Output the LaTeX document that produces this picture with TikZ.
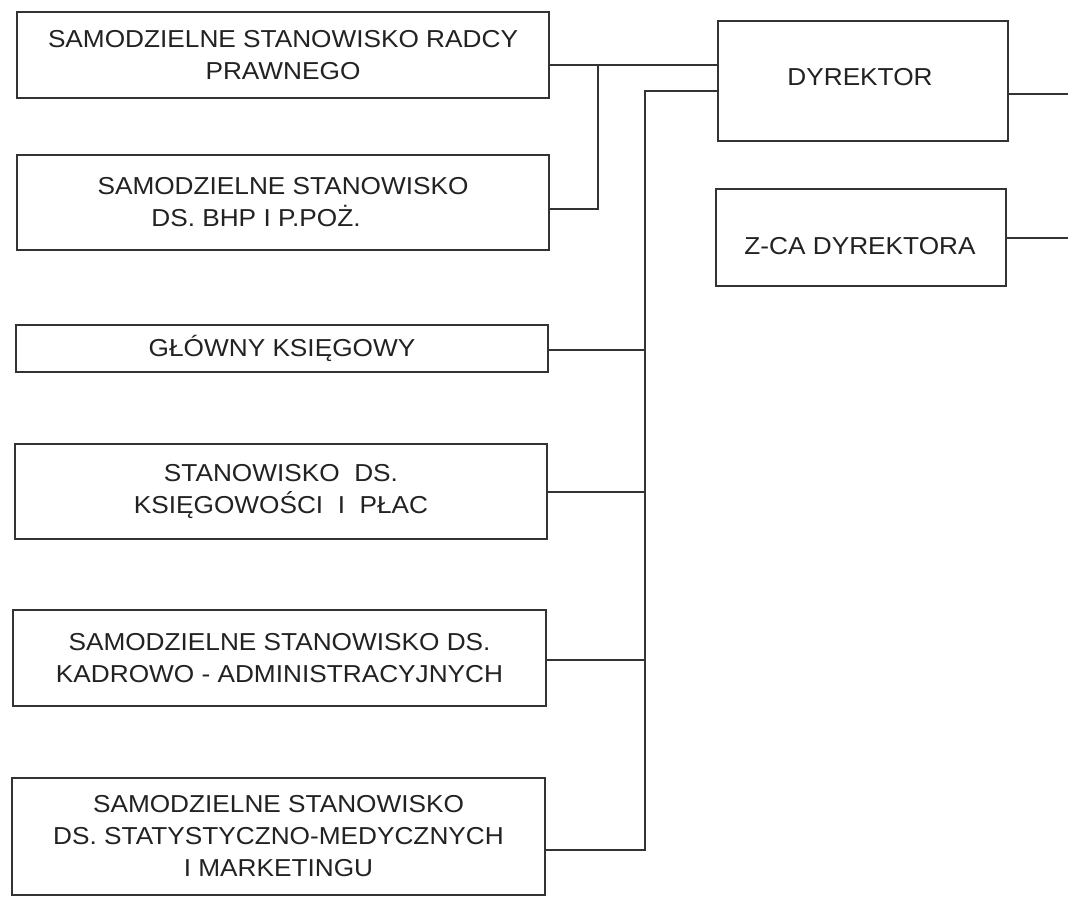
\documentclass[tikz,border=0pt]{standalone}
\usepackage{fontspec}
\setmainfont{Liberation Sans}[FakeStretch=1.07]
\definecolor{ink}{HTML}{222222}
\definecolor{lin}{HTML}{333333}
\begin{document}
\begin{tikzpicture}[x=1pt,y=-1pt,
  box/.style={draw=lin, line width=1.3pt, rectangle, inner sep=0pt, outer sep=0pt,
    align=center, text=ink, font=\fontsize{24.5}{32}\selectfont},
  lbl/.style={inner sep=0pt, text=ink, align=center, font=\fontsize{24.5}{32}\selectfont},
  conn/.style={draw=lin, line width=1.2pt}]
\useasboundingbox[fill=white] (0,0) rectangle (1068,898);

% left column
\node[box, minimum width=532pt, minimum height=86pt] (radcy) at (283,55)
  {SAMODZIELNE STANOWISKO RADCY\\PRAWNEGO};
\node[box, minimum width=532pt, minimum height=95pt] (bhp) at (283,202.5)
  {SAMODZIELNE STANOWISKO\\DS. BHP I P.POŻ.\hspace*{54pt}};
\node[box, minimum width=532pt, minimum height=47pt] (glowny) at (282,348.5)
  {GŁÓWNY KSIĘGOWY};
\node[box, minimum width=532pt, minimum height=95pt] (ksieg) at (281,491.5)
  {STANOWISKO\ \ DS.\\KSIĘGOWOŚCI\ \ I\ \ PŁAC};
\node[box, minimum width=533pt, minimum height=96pt] (kadr) at (279.5,658)
  {SAMODZIELNE STANOWISKO DS.\\KADROWO - ADMINISTRACYJNYCH};
\node[box, minimum width=533pt, minimum height=117pt] (mark) at (278.5,836.5)
  {SAMODZIELNE STANOWISKO\\DS. STATYSTYCZNO-MEDYCZNYCH\\I MARKETINGU};

% right column
\node[box, minimum width=290pt, minimum height=120pt] (dyr) at (863,81) {};
\node[lbl] (dyrt) at (860,77) {DYREKTOR};
\node[box, minimum width=290pt, minimum height=97pt] (zca) at (861,237.5) {};
\node[lbl] (zcat) at (860,246) {Z-CA DYREKTORA};

% junction coordinates
\coordinate (t1) at (598,65);
\coordinate (t1b) at (598,209);
\coordinate (t2) at (645,91);
\coordinate (t2b) at (645,850);
\coordinate (r1) at (1068,94);
\coordinate (r2) at (1068,238);

% connectors
\draw[conn] (radcy.east |- t1) -- (dyr.west |- t1);
\draw[conn] (t1) -- (t1b) -- (bhp.east |- t1b);
\draw[conn] (dyr.west |- t2) -- (t2) -- (t2b) -- (mark.east |- t2b);
\draw[conn] (glowny.east |- 0,350) -- (t2 |- 0,350);
\draw[conn] (ksieg.east |- 0,492) -- (t2 |- 0,492);
\draw[conn] (kadr.east |- 0,660) -- (t2 |- 0,660);
\draw[conn] (dyr.east |- r1) -- (r1);
\draw[conn] (zca.east |- r2) -- (r2);
\end{tikzpicture}
\end{document}
